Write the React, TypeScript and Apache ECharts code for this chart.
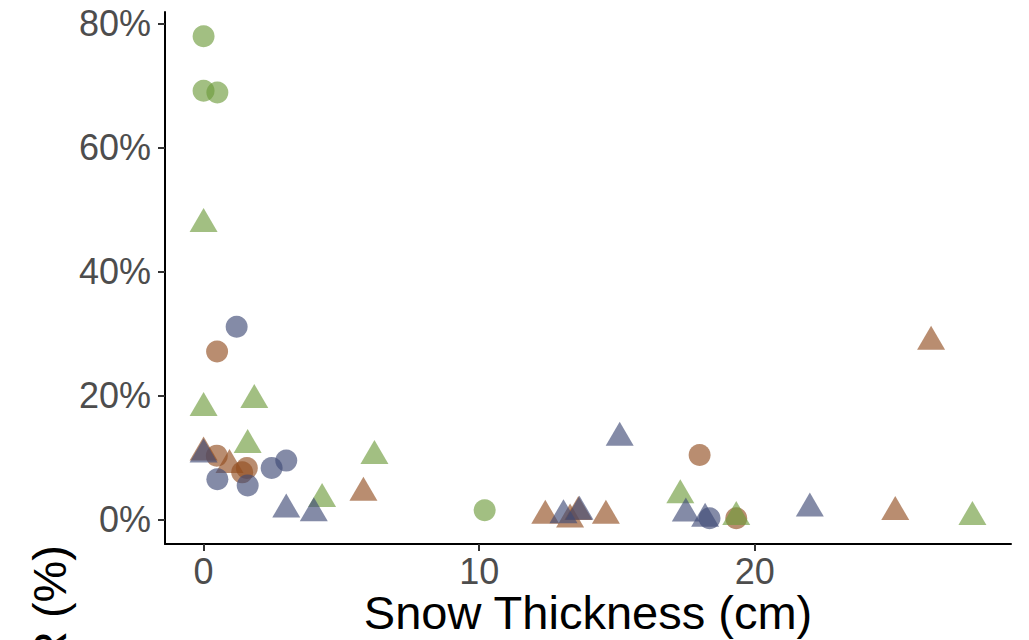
import React, { useEffect, useRef } from "react";
import * as echarts from "echarts";

// Snow thickness (cm), value (%)
const greenCircles: number[][] = [
  [0, 78], [0, 69.2], [0.5, 68.9], [10.2, 1.5],
];
const greenTriangles: number[][] = [
  [0, 47.7], [0, 18.0], [1.84, 19.3], [1.6, 12.0], [4.3, 3.3], [6.2, 10.25],
  [17.3, 3.9], [19.33, 0.4], [27.9, 0.4],
];
const brownCircles: number[][] = [
  [0.49, 27.1], [0.48, 10.3], [1.57, 8.3], [1.4, 7.6], [18.0, 10.4], [19.33, 0.2],
];
const brownTriangles: number[][] = [
  [0, 10.8], [0.94, 8.8], [5.8, 4.3], [12.4, 0.6], [13.3, 0], [13.6, 1.2],
  [14.6, 0.6], [25.1, 1.2], [26.4, 28.7],
];
const navyCircles: number[][] = [
  [1.2, 31.1], [0.5, 6.5], [1.6, 5.5], [2.47, 8.3], [3.0, 9.5], [18.36, 0.2],
];
const navyTriangles: number[][] = [
  [0, 10.5], [3.0, 1.6], [4.0, 1.0], [13.06, 0.7], [13.64, 1.25], [15.1, 13.2],
  [17.5, 0.95], [18.2, 0.1], [22.0, 1.75],
];

const xTicks = [0, 10, 20];
const yTicks = [0, 20, 40, 60, 80];

const GREEN = "rgba(110,155,60,0.8)";
const BROWN = "rgba(146,76,31,0.8)";
const NAVY = "rgba(62,74,118,0.8)";
const FONT = "'Liberation Sans', Arial, sans-serif";

export default function App() {
  const ref = useRef<HTMLDivElement>(null);
  useEffect(() => {
    if (!ref.current) return;
    const chart = echarts.init(ref.current, undefined, { renderer: "svg" });
    const circle = (name: string, data: number[][], color: string) => ({
      name,
      type: "scatter",
      data,
      symbol: "circle",
      symbolSize: 22,
      itemStyle: { color },
      silent: true,
    });
    const tri = (name: string, data: number[][], color: string) => ({
      name,
      type: "scatter",
      data,
      symbol: "triangle",
      symbolSize: [28, 24],
      symbolOffset: [0, -4],
      itemStyle: { color },
      silent: true,
    });
    chart.setOption({
      animation: false,
      backgroundColor: "#ffffff",
      grid: { left: 165, right: 18, top: 12, bottom: 96, containLabel: false },
      xAxis: {
        type: "value",
        min: -1.4,
        max: 29.3,
        splitLine: { show: false },
        axisLine: { show: true, onZero: false, lineStyle: { color: "#000", width: 2 } },
        axisTick: { show: true, length: 7, customValues: xTicks, lineStyle: { color: "#333", width: 2 } },
        axisLabel: {
          customValues: xTicks,
          fontSize: 36,
          color: "#4d4d4d",
          fontFamily: FONT,
          margin: 9,
        },
      },
      yAxis: {
        type: "value",
        min: -3.96,
        max: 81.9,
        splitLine: { show: false },
        axisLine: { show: true, onZero: false, lineStyle: { color: "#000", width: 2 } },
        axisTick: { show: true, length: 7, customValues: yTicks, lineStyle: { color: "#333", width: 2 } },
        axisLabel: {
          customValues: yTicks,
          fontSize: 36,
          color: "#4d4d4d",
          fontFamily: FONT,
          margin: 14,
          formatter: (v: number) => `${v}%`,
        },
      },
      graphic: [
        {
          type: "text",
          x: 588,
          y: 612,
          style: {
            text: "Snow Thickness (cm)",
            fontSize: 47,
            fontFamily: FONT,
            fill: "#000",
            textAlign: "center",
            textVerticalAlign: "middle",
          },
        },
        {
          type: "text",
          x: 49,
          y: 545,
          rotation: Math.PI / 2,
          style: {
            text: "R (%)",
            fontSize: 47,
            fontFamily: FONT,
            fill: "#000",
            textAlign: "right",
            textVerticalAlign: "middle",
          },
        },
      ],
      series: [
        circle("brownC", brownCircles, BROWN),
        tri("brownT", brownTriangles, BROWN),
        circle("greenC", greenCircles, GREEN),
        tri("greenT", greenTriangles, GREEN),
        circle("navyC", navyCircles, NAVY),
        tri("navyT", navyTriangles, NAVY),
      ],
    });
    return () => chart.dispose();
  }, []);
  return (
    <div
      ref={ref}
      style={{ position: "fixed", left: 0, top: 0, width: 1029, height: 640 }}
    />
  );
}
